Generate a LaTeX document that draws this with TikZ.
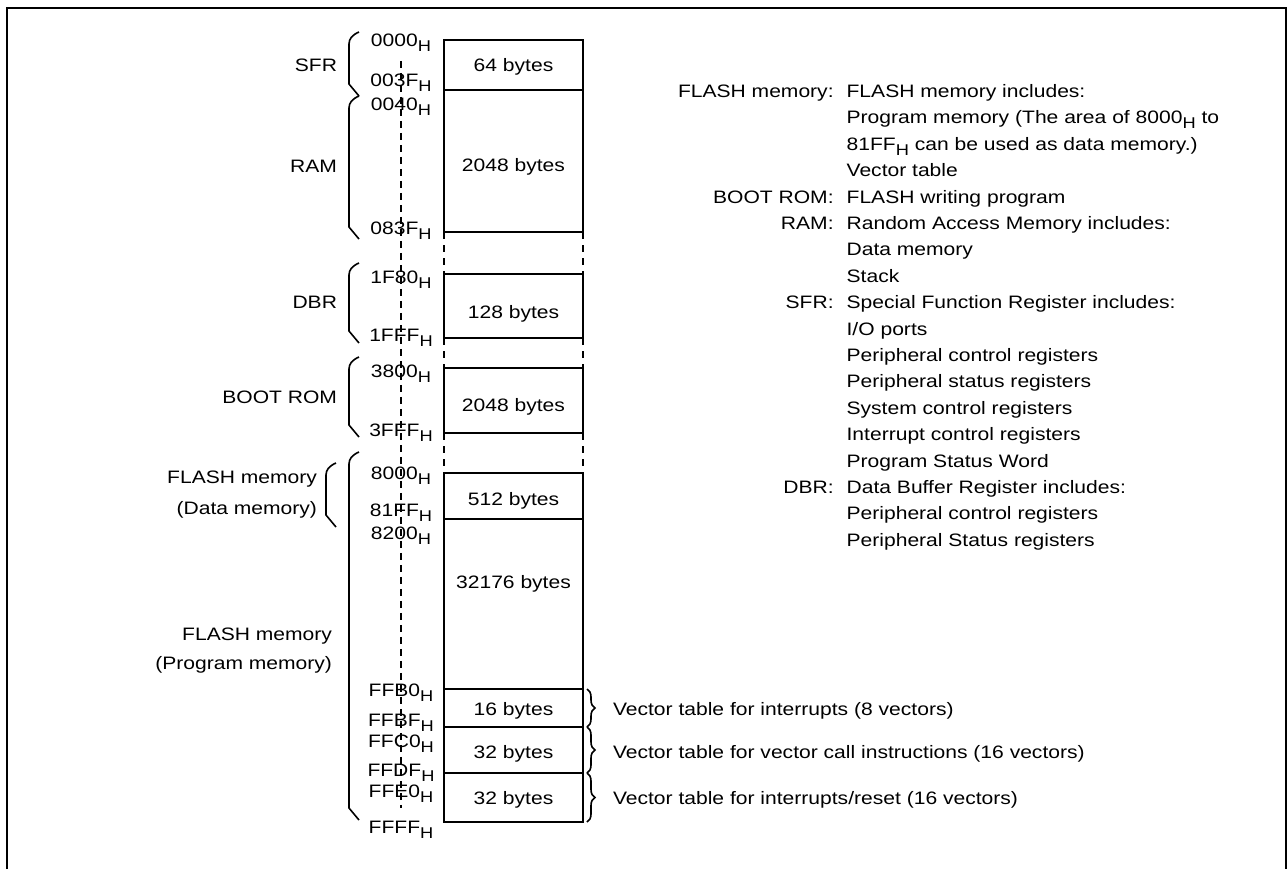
\documentclass[tikz,border=0pt]{standalone}
\usepackage{fontspec}
\setmainfont{Liberation Sans}[FakeStretch=1.17]
\usetikzlibrary{decorations.pathreplacing}

\newcommand{\hsub}{\raisebox{-2.4pt}{\fontsize{7.8}{8}\selectfont H}}
% left bracket: x, top, bottom
\newcommand{\lbrak}[3]{%
  \draw[brak] (#1+10,#2) .. controls (#1+3,#2+3) and (#1,#2+7) .. (#1,#2+12) -- (#1,#3-12) -- (#1+10,#3);}

\begin{document}
\begin{tikzpicture}[x=0.5pt,y=-0.5pt,line width=1pt,
    font=\fontsize{9}{13.2}\selectfont,
    txt/.style={inner sep=0pt,anchor=base},
    lft/.style={inner sep=0pt,anchor=base east},
    rgt/.style={inner sep=0pt,anchor=base west},
    brak/.style={line width=0.8pt},
    gap/.style={dash pattern=on 3.5pt off 3pt},
    vbrace/.style={decorate,decoration={brace,amplitude=4pt},line width=0.8pt}]
    \useasboundingbox (0,0) rectangle (1287,869);
    \draw[line width=1.2pt] (7,869) -- (7,8) -- (1286,8) -- (1286,869);

    % memory blocks
    \draw (444,40) rectangle (583,232);
    \draw (444,90) -- (583,90);
    \draw[gap] (444,232) -- (444,274) (583,232) -- (583,274);
    \draw (444,274) rectangle (583,338);
    \draw[gap] (444,338) -- (444,368) (583,338) -- (583,368);
    \draw (444,368) rectangle (583,433);
    \draw[gap] (444,433) -- (444,473) (583,433) -- (583,473);
    \draw (444,473) rectangle (583,822);
    \foreach \y in {519,689,727,773}
        \draw (444,\y) -- (583,\y);

    \node[txt] (sfrsize) at (513.5,71.5) {64 bytes};
    \node[txt] (ramsize) at (513.5,171.5) {2048 bytes};
    \node[txt] (dbrsize) at (513.5,318.5) {128 bytes};
    \node[txt] (bootsize) at (513.5,411.5) {2048 bytes};
    \node[txt] (datasize) at (513.5,505.5) {512 bytes};
    \node[txt] (progsize) at (513.5,588.5) {32176 bytes};
    \node[txt] (vec1size) at (513.5,715.5) {16 bytes};
    \node[txt] (vec2size) at (513.5,758.5) {32 bytes};
    \node[txt] (vec3size) at (513.5,804.5) {32 bytes};

    % addresses
    \foreach \a/\y in {0000/46.5,003F/86.5,0040/110.5,083F/234.5,1F80/283.5,1FFF/341.5,
        3800/377.5,3FFF/436.5,8000/479.5,81FF/516.5,8200/539.5,FFB0/696.5,
        FFBF/726.5,FFC0/747.5,FFDF/776.5,FFE0/797.5,FFFF/833.5}
        \node[txt] (a\a) at (401,\y) {\a\hsub};
    \draw[dash pattern=on 3.5pt off 2.5pt,shorten <=4.3pt,shorten >=6.3pt] (a0000) -- (aFFFF);

    % area names
    \lbrak{349}{32}{96}
    \lbrak{349}{96}{239}
    \lbrak{349}{263}{343}
    \lbrak{349}{357}{437}
    \lbrak{349}{452}{820}
    \lbrak{326}{463}{527}
    \node[lft] (sfr) at (338,71.5) {SFR};
    \node[lft] (ram) at (338,172.5) {RAM};
    \node[lft] (dbr) at (338,308.5) {DBR};
    \node[lft] (boot) at (338,403.5) {BOOT ROM};
    \node[lft] (data1) at (318,483.5) {FLASH memory};
    \node[lft] (data2) at (318,514.5) {(Data memory)};
    \node[lft] (prog1) at (333,640.5) {FLASH memory};
    \node[lft] (prog2) at (333,669.5) {(Program memory)};

    % vector tables
    \draw[vbrace] (587,689) -- (587,727);
    \draw[vbrace] (587,727) -- (587,773);
    \draw[vbrace] (587,773) -- (587,822);
    \node[rgt] (vec1) at (612,715.5) {Vector table for interrupts (8 vectors)};
    \node[rgt] (vec2) at (612,758.5) {Vector table for vector call instructions (16 vectors)};
    \node[rgt] (vec3) at (612,804.5) {Vector table for interrupts/reset (16 vectors)};

    \node[rgt] (legend) at (677,97.5) {\begin{tabular}[t]{@{}r@{\hspace{6.5pt}}l@{}}
        FLASH memory: & FLASH memory includes:\\
        & Program memory (The area of 8000\hsub{} to\\
        & 81FF\hsub{} can be used as data memory.)\\
        & Vector table\\
        BOOT ROM: & FLASH writing program\\
        RAM: & Random Access Memory includes:\\
        & Data memory\\
        & Stack\\
        SFR: & Special Function Register includes:\\
        & I/O ports\\
        & Peripheral control registers\\
        & Peripheral status registers\\
        & System control registers\\
        & Interrupt control registers\\
        & Program Status Word\\
        DBR: & Data Buffer Register includes:\\
        & Peripheral control registers\\
        & Peripheral Status registers
    \end{tabular}};
\end{tikzpicture}
\end{document}
